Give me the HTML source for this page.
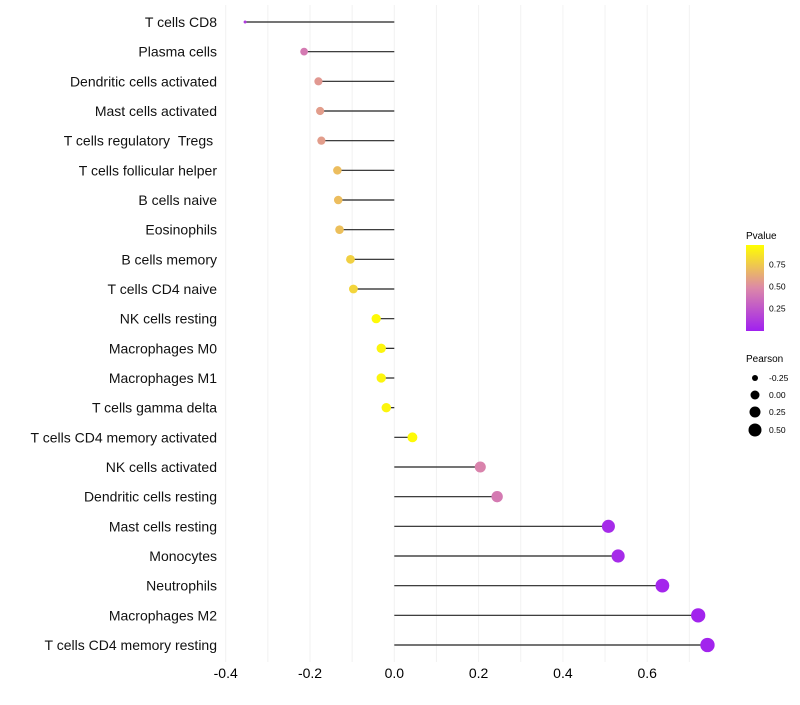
<!DOCTYPE html>
<html><head><meta charset="utf-8"><style>
body{margin:0;background:#fff;font-family:"Liberation Sans",sans-serif}
</style></head><body>
<svg id="chart" width="800" height="700" xmlns="http://www.w3.org/2000/svg" font-family="Liberation Sans, sans-serif">
<defs><linearGradient id="pg" x1="0" y1="1" x2="0" y2="0">
<stop offset="0" stop-color="#a020f0"/><stop offset="0.5" stop-color="#dc88a8"/><stop offset="1" stop-color="#ffff00"/>
</linearGradient></defs>
<g id="grid"></g>
<g id="marks"></g>
<g id="ylabels"></g>
<g id="xlabels"></g>
<g>
<text x="746" y="239" font-size="10" fill="#000">Pvalue</text>
<rect x="746" y="245" width="18" height="86" fill="url(#pg)"/>
<text x="769" y="267.5" font-size="8.5">0.75</text>
<text x="769" y="289.5" font-size="8.5">0.50</text>
<text x="769" y="311.5" font-size="8.5">0.25</text>
</g>
<g>
<text x="746" y="362" font-size="10">Pearson</text>
<circle cx="755" cy="378" r="3" fill="#000"/><text x="769" y="381" font-size="8.5">-0.25</text>
<circle cx="755" cy="395" r="4.5" fill="#000"/><text x="769" y="398" font-size="8.5">0.00</text>
<circle cx="755" cy="412" r="5.5" fill="#000"/><text x="769" y="415" font-size="8.5">0.25</text>
<circle cx="755" cy="430" r="6.5" fill="#000"/><text x="769" y="433" font-size="8.5">0.50</text>
</g>
</svg>
<script>
const categories=["T cells CD8","Plasma cells","Dendritic cells activated","Mast cells activated","T cells regulatory\u00a0\u00a0Tregs\u00a0","T cells follicular helper","B cells naive","Eosinophils","B cells memory","T cells CD4 naive","NK cells resting","Macrophages M0","Macrophages M1","T cells gamma delta","T cells CD4 memory activated","NK cells activated","Dendritic cells resting","Mast cells resting","Monocytes","Neutrophils","Macrophages M2","T cells CD4 memory resting"];
const pearson=[-0.354,-0.214,-0.180,-0.176,-0.173,-0.135,-0.133,-0.130,-0.104,-0.097,-0.043,-0.031,-0.031,-0.019,0.043,0.204,0.244,0.508,0.531,0.636,0.721,0.743];
const pvalue=[0.12,0.42,0.55,0.57,0.57,0.70,0.70,0.71,0.78,0.80,0.95,0.93,0.93,0.93,0.95,0.46,0.42,0.05,0.05,0.03,0.02,0.02];
const xTicks=[-0.4,-0.2,0.0,0.2,0.4,0.6];
const xTickLabels=["-0.4","-0.2","0.0","0.2","0.4","0.6"];
const NS="http://www.w3.org/2000/svg";
function x(v){return 394.3+v*421.5;}
function y(i){return 22+i*(623/(categories.length-1));}
const sizeKnots=[[-0.354,1.5],[-0.3,3],[-0.2,4],[0,4.8],[0.25,5.7],[0.5,6.5],[0.75,7.2]];
function rad(v){for(let k=0;k<sizeKnots.length-1;k++){const a=sizeKnots[k],b=sizeKnots[k+1];if(v<=b[0]||k==sizeKnots.length-2){const f=Math.max(0,(v-a[0])/(b[0]-a[0]));return a[1]+(b[1]-a[1])*f;}}return 7;}
function hex(c){return c.map(n=>Math.round(n).toString(16).padStart(2,'0')).join('');}
function col(p){const s=[[160,32,240],[220,136,168],[255,255,0]];const t=Math.min(1,Math.max(0,p/0.97))*2;const k=t<1?0:1;const f=t-k;const a=s[k],b=s[k+1];return '#'+hex(a.map((v,j)=>v+(b[j]-v)*f));}
function mk(tag,at,parent){const e=document.createElementNS(NS,tag);for(const k in at)e.setAttribute(k,at[k]);parent.appendChild(e);return e;}
const grid=document.getElementById('grid'),marks=document.getElementById('marks'),yl=document.getElementById('ylabels'),xl=document.getElementById('xlabels');
for(let g=-0.4;g<=0.701;g+=0.1){const l=mk('line',{x1:x(g),x2:x(g),y1:5,y2:662,stroke:'#f2f2f2','stroke-width':1},grid);

}
xTicks.forEach((t,i)=>{const e=mk('text',{x:x(t),y:678,'font-size':14,'text-anchor':'middle',fill:'#000'},xl);e.textContent=xTickLabels[i];

});
categories.forEach((c,i)=>{
const t=mk('text',{x:217,y:y(i)+5,'font-size':14,'text-anchor':'end',fill:'#111'},yl);t.textContent=c;


const s=mk('line',{x1:x(0),x2:x(pearson[i]),y1:y(i),y2:y(i),stroke:'#222','stroke-width':1.2},marks);


const d=mk('circle',{cx:x(pearson[i]),cy:y(i),r:rad(pearson[i]),fill:col(pvalue[i])},marks);


});
</script>
</body></html>
